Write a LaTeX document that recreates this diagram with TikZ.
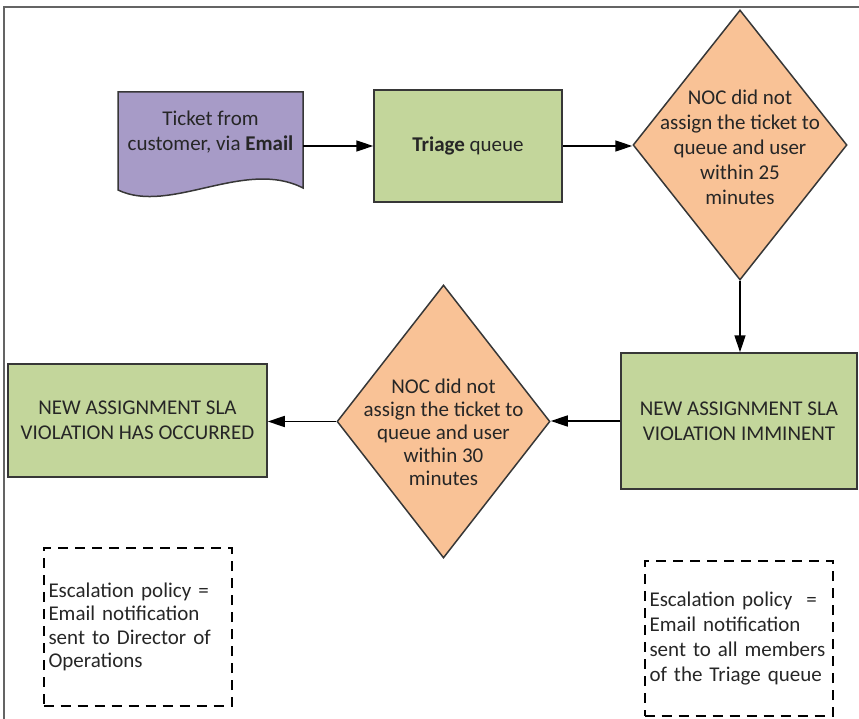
\documentclass[tikz,border=0pt]{standalone}
\usepackage{fontspec}
\setmainfont{Carlito}
\usetikzlibrary{shapes.geometric,arrows.meta}
\definecolor{docpurple}{RGB}{167,155,199}
\definecolor{boxgreen}{RGB}{195,214,155}
\definecolor{decorange}{RGB}{249,194,150}
\definecolor{edgegray}{RGB}{55,55,55}
\definecolor{framegray}{RGB}{100,100,100}
\tikzset{
  every node/.style={font=\fontsize{21}{25}\selectfont, text=black!85},
  procbox/.style={rectangle, draw=edgegray, line width=1.5pt, fill=boxgreen, align=center, inner sep=0pt},
  decision/.style={diamond, draw=edgegray, line width=1.5pt, fill=decorange, inner sep=0pt},
  dectext/.style={align=center, inner sep=0pt},
  notebox/.style={rectangle, draw=black, dash pattern=on 10pt off 7pt, line width=2pt, align=left, text width=178pt, inner xsep=5pt, minimum width=188pt},
  flow/.style={-{Triangle[length=17pt,width=11pt]}, line width=1.5pt},
}
\begin{document}
\begin{tikzpicture}[x=1pt, y=-1pt]
      \useasboundingbox (0,0) rectangle (859,719);
      \draw[framegray, line width=1.5pt] (4,719) -- (4,7) -- (859,7);
      % document shape
      \draw[edgegray, line width=1.5pt, fill=docpurple]
        (118,92) -- (303,92) -- (303,188)
        .. controls (245,158) and (170,215) .. (118,190) -- cycle;
      \node[align=center, minimum width=185pt, inner sep=0pt] (doc) at (210.5,132.5)
        {Ticket from\\customer, via \textbf{Email}};
      \node[procbox, minimum width=188pt, minimum height=112pt] (triage) at (468,146)
        {\textbf{Triage} queue};
      \node[decision, minimum width=214pt, minimum height=270pt] (dec1) at (740,145) {};
      \node[dectext] (dec1text) at (740,147)
        {NOC did not\\assign the ticket to\\queue and user\\within 25\\minutes};
      \node[procbox, minimum width=236pt, minimum height=136pt] (imminent) at (739,421)
        {NEW ASSIGNMENT SLA\\VIOLATION IMMINENT};
      \node[decision, minimum width=213pt, minimum height=273pt] (dec2) at (443.5,421.5) {};
      \node[dectext, font=\fontsize{21}{23}\selectfont] (dec2text) at (443.5,432)
        {NOC did not\\assign the ticket to\\queue and user\\within 30\\minutes};
      \node[procbox, minimum width=259pt, minimum height=113pt] (occurred) at (137.5,420.5)
        {NEW ASSIGNMENT SLA\\VIOLATION HAS OCCURRED};
      \node[notebox, minimum height=158pt, font=\fontsize{21}{23.5}\selectfont] (note1) at (137.5,627)
        {Escalation policy =\\Email notification\\sent to Director of\\Operations};
      \node[notebox, minimum height=155pt] (note2) at (738.5,638.5)
        {Escalation policy~~=\\Email notification\\sent to all members\\of the Triage queue};
      \begin{scope}[flow]
        \draw (triage.west -| doc.east) -- (triage.west);
        \draw (triage.east) -- (triage.east -| dec1.west);
        \draw (dec1.south) -- (dec1.south |- imminent.north);
        \draw (imminent.west) -- (imminent.west -| dec2.east);
        \draw (dec2.west) -- (dec2.west -| occurred.east);
      \end{scope}
    \end{tikzpicture}
\end{document}
